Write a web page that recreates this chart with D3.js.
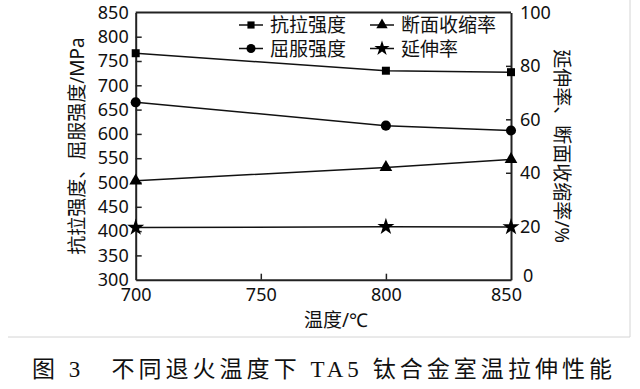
<!DOCTYPE html>
<html>
<head>
  <meta charset="utf-8">
  <title>TA5 tensile properties</title>
  <style>
    body { margin: 0; background: #fff; }
    svg text { font-family: "Noto Sans", "Noto Sans CJK SC", sans-serif; fill: #111; }
    .caption { font-family: "Liberation Serif", "Noto Sans CJK SC", serif; }
  </style>
</head>
<body>
  <svg id="chart" width="640" height="389"></svg>
  <script src="https://d3js.org/d3.v7.min.js"></script>
  <script>
    // Data
    const temps = [700, 800, 850];
    const tensile = [766, 730, 727];      // 抗拉强度, MPa
    const yieldStr = [665, 617, 607];     // 屈服强度, MPa
    const reduction = [37, 42, 45];       // 断面收缩率, %
    const elongation = [19.5, 19.8, 19.7];// 延伸率, %

    const xTicks = [700, 750, 800, 850];
    const yLeftTicks = [300, 350, 400, 450, 500, 550, 600, 650, 700, 750, 800, 850];
    const yRightTicks = [0, 20, 40, 60, 80, 100];

    const svg = d3.select("#chart");

    // plot box
    const plotL = 135.7, plotR = 511, plotT = 12.4, plotB = 279.7;

    const x = d3.scaleLinear().domain([700, 850]).range([plotL, plotR]);
    const yL = d3.scaleLinear().domain([300, 850]).range([plotB, plotT]);
    const yR = d3.scaleLinear().domain([0, 100]).range([plotB, plotT]);

    // outer light frame
    svg.append("line").attr("x1", 8).attr("x2", 630).attr("y1", 337).attr("y2", 337)
      .attr("stroke", "#d4d4d4").attr("stroke-width", 1);
    svg.append("line").attr("x1", 630).attr("x2", 630).attr("y1", 0).attr("y2", 337)
      .attr("stroke", "#d4d4d4").attr("stroke-width", 1);

    // axes
    const axisColor = "#222";
    const gx = svg.append("g").attr("transform", `translate(0,${plotB})`)
      .call(d3.axisBottom(x).tickValues(xTicks).tickSizeInner(-6).tickSizeOuter(0).tickPadding(9));
    const gl = svg.append("g").attr("transform", `translate(${plotL},0)`)
      .call(d3.axisLeft(yL).tickValues(yLeftTicks).tickSizeInner(-6).tickSizeOuter(0).tickPadding(7));
    const gr = svg.append("g").attr("transform", `translate(${plotR},0)`)
      .call(d3.axisRight(yR).tickValues(yRightTicks).tickSizeInner(-5).tickSizeOuter(0).tickPadding(9));

    [gx, gl, gr].forEach(g => {
      g.select(".domain").attr("stroke", axisColor).attr("stroke-width", 2);
      g.selectAll(".tick line").attr("stroke", axisColor).attr("stroke-width", 1.5);
      g.selectAll(".tick text").attr("font-size", 18).attr("fill", "#111")
        .style("font-family", "'Noto Sans', sans-serif");
    });
    // corner labels: "850" sits a bit left, right "0" a bit up/right, as in the original
    gx.selectAll(".tick text").filter(d => d === 850).attr("dx", -5);
    gr.selectAll(".tick text").filter(d => d === 0).attr("dy", "0.1em").attr("dx", 3);

    // hide ticks that sit on the box corners
    gx.selectAll(".tick line").filter(d => d === 700 || d === 850).remove();
    gl.selectAll(".tick line").filter(d => d === 300 || d === 850).remove();
    gr.selectAll(".tick line").filter(d => d === 0 || d === 100).remove();

    // top border
    svg.append("line").attr("x1", plotL).attr("x2", plotR).attr("y1", plotT).attr("y2", plotT)
      .attr("stroke", axisColor).attr("stroke-width", 2);

    // series
    const series = [
      { name: "抗拉强度", values: tensile, scale: yL, symbol: d3.symbolSquare, size: 64 },
      { name: "屈服强度", values: yieldStr, scale: yL, symbol: d3.symbolCircle, size: 80 },
      { name: "断面收缩率", values: reduction, scale: yR, symbol: d3.symbolTriangle, size: 70 },
      { name: "延伸率", values: elongation, scale: yR, symbol: d3.symbolStar, size: 90 }
    ];

    series.forEach(s => {
      const pts = temps.map((t, i) => [x(t), s.scale(s.values[i])]);
      svg.append("path")
        .attr("d", d3.line()(pts))
        .attr("fill", "none").attr("stroke", "#111").attr("stroke-width", 1.5);
      svg.selectAll(null).data(pts).enter().append("path")
        .attr("transform", d => `translate(${d[0]},${d[1]})`)
        .attr("d", d3.symbol().type(s.symbol).size(s.size))
        .attr("fill", "#000");
    });

    // legend
    const legendPos = [[239, 25], [239, 48.5], [370, 25], [370, 48.5]];
    series.forEach((s, i) => {
      const [lx, ly] = legendPos[i];
      const g = svg.append("g").attr("transform", `translate(${lx},${ly})`);
      g.append("line").attr("x1", 0).attr("x2", 24).attr("y1", 0).attr("y2", 0)
        .attr("stroke", "#111").attr("stroke-width", 1.5);
      g.append("path").attr("transform", "translate(12,0)")
        .attr("d", d3.symbol().type(s.symbol).size(s.size * 0.8))
        .attr("fill", "#000");
      g.append("text").attr("x", 31).attr("y", 0)
        .attr("dominant-baseline", "central")
        .attr("font-size", 19).text(s.name);
    });

    // axis titles
    svg.append("text")
      .attr("transform", `translate(77,${(plotT + plotB) / 2}) rotate(-90)`)
      .attr("text-anchor", "middle").attr("dominant-baseline", "central")
      .attr("font-size", 19).text("抗拉强度、屈服强度/MPa");
    svg.append("text")
      .attr("transform", `translate(562,${(plotT + plotB) / 2}) rotate(90)`)
      .attr("text-anchor", "middle").attr("dominant-baseline", "central")
      .attr("font-size", 19).text("延伸率、断面收缩率/%");
    svg.append("text")
      .attr("x", 336).attr("y", 320)
      .attr("text-anchor", "middle").attr("dominant-baseline", "central")
      .attr("font-size", 19).text("温度/℃");

    // caption
    svg.append("text").attr("class", "caption")
      .attr("x", 32).attr("y", 369)
      .attr("dominant-baseline", "central")
      .attr("font-size", 23)
      .attr("textLength", 580).attr("lengthAdjust", "spacing")
      .text("图 3　不同退火温度下 TA5 钛合金室温拉伸性能");
  </script>
</body>
</html>
